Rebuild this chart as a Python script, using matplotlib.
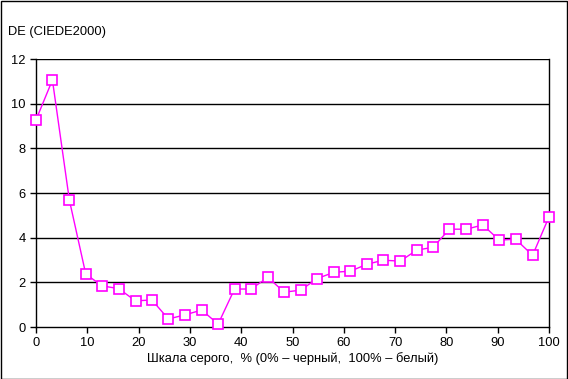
import numpy as np
import matplotlib
matplotlib.use('Agg')
import matplotlib.pyplot as plt
from matplotlib.patches import Rectangle

plt.rcParams['font.family'] = ['Liberation Sans', 'DejaVu Sans']

# шкала серого, 32 точки от 0 до 100 %
gray = [0.0, 3.2, 6.5, 9.7, 12.9, 16.1, 19.4, 22.6, 25.8, 29.0, 32.3,
        35.5, 38.7, 41.9, 45.2, 48.4, 51.6, 54.8, 58.1, 61.3, 64.5, 67.7,
        71.0, 74.2, 77.4, 80.6, 83.9, 87.1, 90.3, 93.5, 96.8, 100.0]
de2000 = [9.27, 11.06, 5.69, 2.37, 1.84, 1.72, 1.17, 1.21, 0.36, 0.54, 0.76,
          0.13, 1.70, 1.70, 2.22, 1.56, 1.65, 2.17, 2.45, 2.50, 2.81, 2.99,
          2.95, 3.44, 3.57, 4.38, 4.38, 4.57, 3.89, 3.93, 3.21, 4.93]
yticks = [0, 2, 4, 6, 8, 10, 12]
xticks = [0, 10, 20, 30, 40, 50, 60, 70, 80, 90, 100]

fig = plt.figure(figsize=(5.68, 3.79), dpi=100)
ax = fig.add_axes([36/568, 52/379, 513/568, 268/379])

for y in yticks[1:]:
    ax.axhline(y, color='black', lw=1.0, zorder=1)

ax.plot(gray, de2000, color='#ff00ff', lw=1.0, marker='s', ms=7.5,
        mfc='white', mec='#ff00ff', mew=1.2, zorder=3, clip_on=False)

ax.set_xlim(0, 100)
ax.set_ylim(0, 12)
ax.set_xticks(xticks)
ax.set_yticks(yticks)
ax.tick_params(direction='out', length=4, width=1, labelsize=9.3,
               colors='black', pad=3.5)
for s in ['left', 'bottom', 'right']:
    ax.spines[s].set_linewidth(1)
ax.spines['top'].set_visible(False)

ax.set_xlabel('Шкала серого,  % (0% – черный,  100% – белый)',
              fontsize=9.3, labelpad=2)
fig.text(8/568, 1 - 32/379, 'DE (CIEDE2000)', fontsize=9.3,
         va='center', ha='left')

fig.patches.append(Rectangle((0.5/568, 0.5/379), 566.5/568, 377.5/379,
                             transform=fig.transFigure, fill=False,
                             edgecolor='black', lw=1))

fig.savefig('out.png', dpi=100)
